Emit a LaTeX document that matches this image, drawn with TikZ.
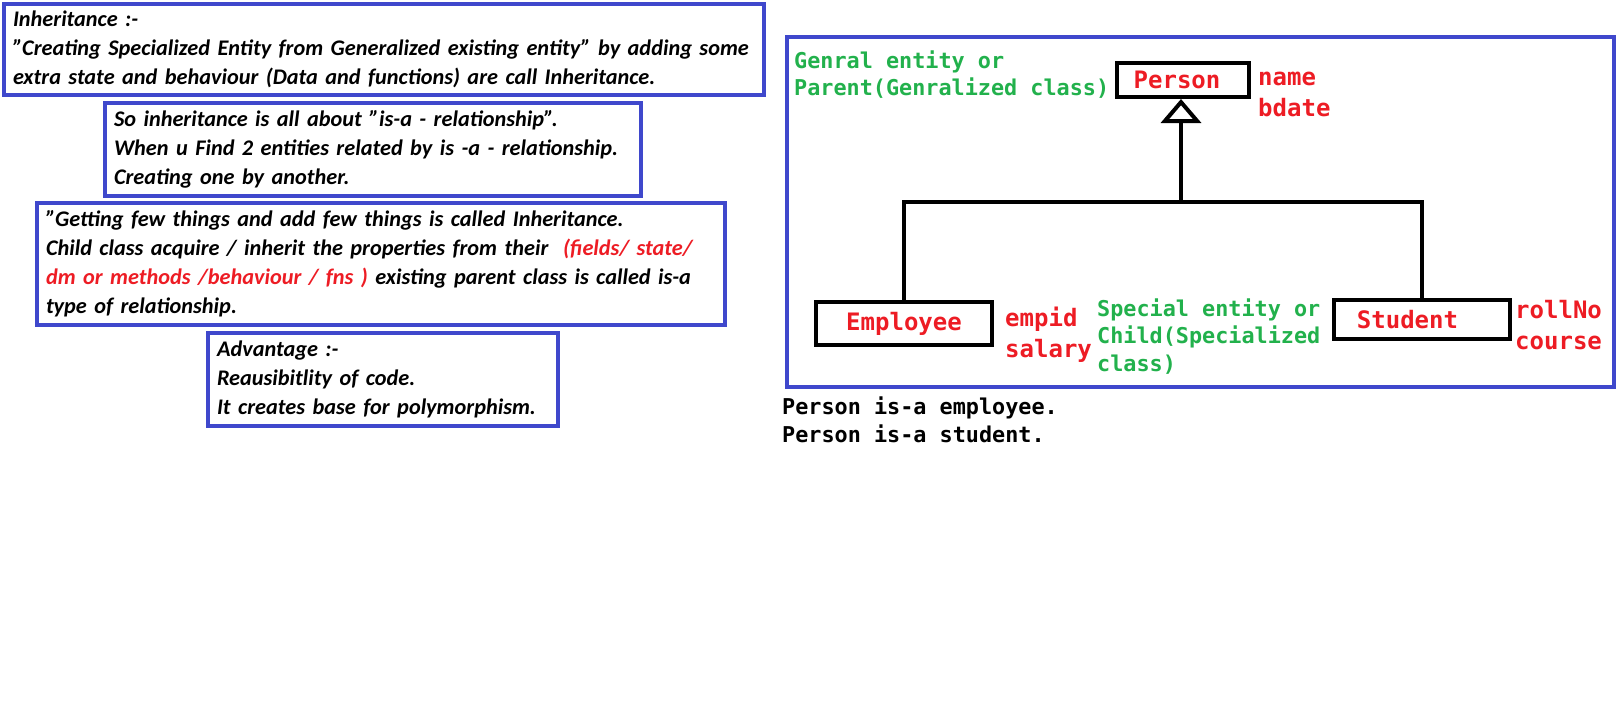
\documentclass[tikz,border=0pt]{standalone}
\usepackage{fontspec}
\setmainfont{Carlito}
\newfontfamily\codefont{DejaVu Sans Mono}
\usetikzlibrary{arrows.meta}
\definecolor{paintblue}{RGB}{63,72,204}
\definecolor{paintred}{RGB}{237,28,36}
\definecolor{paintgreen}{RGB}{34,177,76}
\newcommand\dq{\symbol{34}}
\newcommand\padr[1]{\rule{#1}{0pt}}
\tikzset{
  notebox/.style={draw=paintblue, line width=4pt, align=left, inner xsep=9pt, inner ysep=0pt,
    anchor=north west, font=\fontsize{22.3}{29}\selectfont\bfseries\itshape},
  frame/.style={draw=paintblue, line width=4pt, anchor=north west, inner sep=0pt},
  classbox/.style={draw=black, line width=4pt, text=paintred, inner sep=0pt,
    font=\fontsize{24}{31}\selectfont\codefont\bfseries},
  attrs/.style={text=paintred, align=left, anchor=west, inner sep=0pt,
    font=\fontsize{24}{31}\selectfont\codefont\bfseries},
  remark/.style={text=paintgreen, align=left, anchor=west, inner sep=0pt,
    font=\fontsize{21.8}{27.5}\selectfont\codefont\bfseries},
  plain/.style={align=left, anchor=west, inner sep=0pt,
    font=\fontsize{21.8}{28}\selectfont\codefont\bfseries},
  link/.style={line width=4.5pt}
}
\begin{document}
\begin{tikzpicture}[x=1pt, y=-1pt]
  \useasboundingbox (0,0) rectangle (1624,715);
  % notes on the left
  \node[notebox, text width=742pt, minimum height=91pt] (def) at (2,2)
    {Inheritance :-\\
     \dq Creating Specialized Entity from Generalized existing entity\dq{} by adding some\\
     extra state and behaviour (Data and functions) are call Inheritance.};
  \node[notebox, text width=518pt, minimum height=93pt] (isa) at (103,101)
    {So inheritance is all about \dq is-a - relationship\dq.\\
     When u Find 2 entities related by is -a - relationship.\\
     Creating one by another.};
  \node[notebox, text width=670pt, minimum height=122pt] (few) at (35,201)
    {\dq Getting few things and add few things is called Inheritance.\\
     Child class acquire / inherit the properties from their \ \textcolor{paintred}{(fields/ state/}\\
     \textcolor{paintred}{dm or methods /behaviour / fns )} existing parent class is called is-a\\
     type of relationship.};
  \node[notebox, text width=332pt, minimum height=93pt] (adv) at (206,331)
    {Advantage :-\\
     Reausibitlity of code.\\
     It creates base for polymorphism.};
  % class diagram
  \node[frame, minimum width=827pt, minimum height=350pt] (frm) at (785,35) {};
  \node[classbox, minimum width=132pt, minimum height=34pt] (per) at (1183,80) {Person\padr{12pt}};
  \node[classbox, minimum width=176pt, minimum height=43pt] (emp) at (904,323.5) {Employee};
  \node[classbox, minimum width=176pt, minimum height=39pt] (stu) at (1422,319.5) {Student\padr{29pt}};
  \coordinate (jn) at (1181,202);
  \draw[link] (emp.north) -- (emp.north |- jn) -- (stu.north |- jn) -- (stu.north);
  \draw[link, -{Triangle[open, width=40pt, length=24pt, line width=4pt]}] (jn) -- (per.south -| jn);
  \node[attrs] (perat) at (1258,94.5) {name\\bdate};
  \node[attrs] (empat) at (1005,334.5) {empid\\salary};
  \node[attrs] (stuat) at (1515,325.5) {rollNo\\course};
  \node[remark] (gen) at (794,74.5) {Genral entity or\\Parent(Genralized class)};
  \node[remark] (spec) at (1097,336.5) {Special entity or\\Child(Specialized\\class)};
  \node[plain] (sum) at (782,420) {Person is-a employee.\\Person is-a student.};
\end{tikzpicture}
\end{document}
